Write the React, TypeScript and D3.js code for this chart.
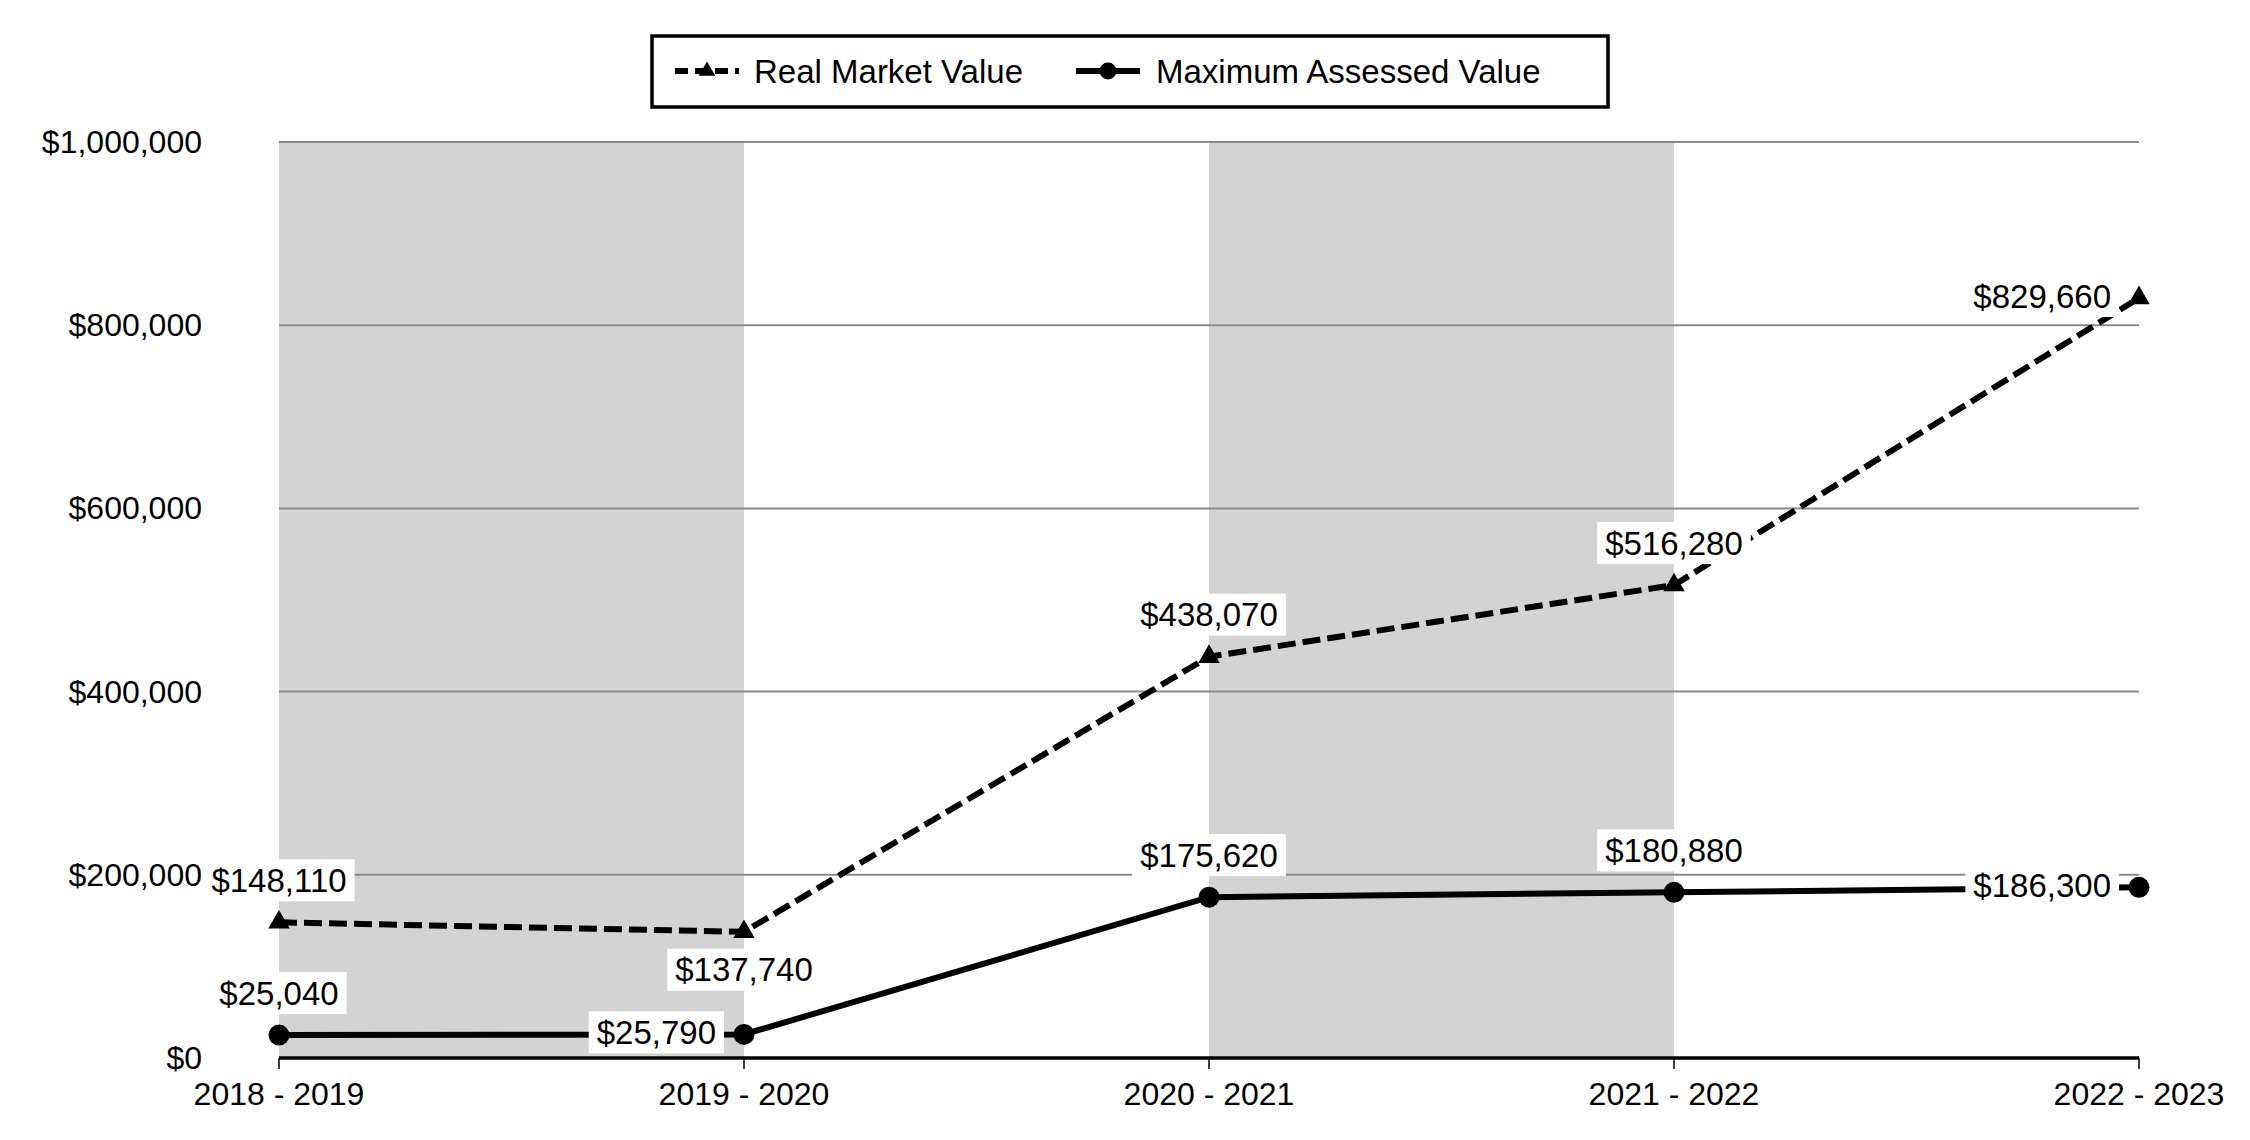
import React, { useEffect, useRef } from 'react';
import * as d3 from 'd3';

const years = ['2018 - 2019', '2019 - 2020', '2020 - 2021', '2021 - 2022', '2022 - 2023'];
const realMarketValue = [148110, 137740, 438070, 516280, 829660];
const maxAssessedValue = [25040, 25790, 175620, 180880, 186300];
const yTicks = [0, 200000, 400000, 600000, 800000, 1000000];
const rmvLabelSide = ['above', 'below', 'above', 'above', 'left'];
const mavLabelSide = ['above', 'left', 'above', 'above', 'left'];

export default function App() {
  const svgRef = useRef<any>();

  useEffect(() => {
    const w = 2250;
    const h = 1140;
    const font = '"Liberation Sans", Arial, sans-serif';
    const svg = d3.select(svgRef.current).attr('width', w).attr('height', h);
    svg.selectAll('*').remove();

    const x = d3.scalePoint().domain(years).range([279, 2139]);
    const y = d3.scaleLinear().domain([0, 1000000]).range([1058, 142]);
    const money = (v: number) => '$' + d3.format(',')(v);

    // alternating gray bands between category ticks
    const bands = years.slice(0, -1).filter((_, i) => i % 2 === 0);
    svg
      .selectAll('.band')
      .data(bands)
      .join('rect')
      .attr('x', (d: any) => x(d))
      .attr('y', y(1000000))
      .attr('width', x.step())
      .attr('height', y(0) - y(1000000))
      .attr('fill', '#d3d3d3');

    // gridlines
    svg
      .selectAll('.grid')
      .data(yTicks.filter((t) => t > 0))
      .join('line')
      .attr('x1', x.range()[0])
      .attr('x2', x.range()[1])
      .attr('y1', (d: any) => y(d))
      .attr('y2', (d: any) => y(d))
      .attr('stroke', '#8a8a8a')
      .attr('stroke-width', 2);

    // y labels
    svg
      .selectAll('.ylab')
      .data(yTicks)
      .join('text')
      .attr('x', 202)
      .attr('y', (d: any) => y(d))
      .attr('text-anchor', 'end')
      .attr('dominant-baseline', 'central')
      .style('font-family', font)
      .style('font-size', '32px')
      .text((d: any) => money(d));

    // x axis
    svg
      .append('line')
      .attr('x1', x.range()[0])
      .attr('x2', x.range()[1])
      .attr('y1', y(0))
      .attr('y2', y(0))
      .attr('stroke', '#000')
      .attr('stroke-width', 3.5);
    svg
      .selectAll('.xtick')
      .data(years)
      .join('line')
      .attr('x1', (d: any) => x(d))
      .attr('x2', (d: any) => x(d))
      .attr('y1', y(0))
      .attr('y2', y(0) + 11)
      .attr('stroke', '#000')
      .attr('stroke-width', 1.5);
    svg
      .selectAll('.xlab')
      .data(years)
      .join('text')
      .attr('x', (d: any) => x(d))
      .attr('y', 1094)
      .attr('text-anchor', 'middle')
      .attr('dominant-baseline', 'central')
      .style('font-family', font)
      .style('font-size', '32px')
      .text((d: any) => d);

    const line = d3
      .line<number>()
      .x((d, i) => x(years[i]) as number)
      .y((d) => y(d));

    svg
      .append('path')
      .attr('d', line(realMarketValue))
      .attr('fill', 'none')
      .attr('stroke', '#000')
      .attr('stroke-width', 6)
      .attr('stroke-dasharray', '18,7');
    svg
      .append('path')
      .attr('d', line(maxAssessedValue))
      .attr('fill', 'none')
      .attr('stroke', '#000')
      .attr('stroke-width', 6);

    // data labels with white boxes
    const addLabels = (vals: number[], sides: string[]) => {
      vals.forEach((v, i) => {
        const px = x(years[i]) as number;
        const py = y(v);
        const g = svg.append('g');
        const rect = g.append('rect').attr('fill', '#fff');
        const t = g
          .append('text')
          .attr('dominant-baseline', 'central')
          .style('font-family', font)
          .style('font-size', '33px')
          .text(money(v));
        const side = sides[i];
        if (side === 'above') {
          t.attr('x', px).attr('y', py - 42).attr('text-anchor', 'middle');
        } else if (side === 'below') {
          t.attr('x', px).attr('y', py + 38).attr('text-anchor', 'middle');
        } else {
          t.attr('x', px - 28).attr('y', py - 2).attr('text-anchor', 'end');
        }
        const bb = (t.node() as any).getBBox();
        rect
          .attr('x', bb.x - 8)
          .attr('y', Number(t.attr('y')) - 21)
          .attr('width', bb.width + 16)
          .attr('height', 42);
      });
    };
    addLabels(realMarketValue, rmvLabelSide);
    addLabels(maxAssessedValue, mavLabelSide);

    // markers
    svg
      .selectAll('.tri')
      .data(realMarketValue)
      .join('path')
      .attr('d', d3.symbol(d3.symbolTriangle, 200) as any)
      .attr('transform', (d: any, i: number) => `translate(${x(years[i])},${y(d)})`)
      .attr('fill', '#000');
    svg
      .selectAll('.dot')
      .data(maxAssessedValue)
      .join('circle')
      .attr('cx', (d: any, i: number) => x(years[i]) as number)
      .attr('cy', (d: any) => y(d))
      .attr('r', 10.5)
      .attr('fill', '#000');

    // legend
    const lg = svg.append('g');
    lg.append('rect')
      .attr('x', 652)
      .attr('y', 36)
      .attr('width', 956)
      .attr('height', 71)
      .attr('fill', '#fff')
      .attr('stroke', '#000')
      .attr('stroke-width', 3.5);
    lg.append('line')
      .attr('x1', 675)
      .attr('x2', 739)
      .attr('y1', 71)
      .attr('y2', 71)
      .attr('stroke', '#000')
      .attr('stroke-width', 6)
      .attr('stroke-dasharray', '13,7');
    lg.append('path')
      .attr('d', d3.symbol(d3.symbolTriangle, 120) as any)
      .attr('transform', 'translate(707,71)')
      .attr('fill', '#000');
    lg.append('text')
      .attr('x', 754)
      .attr('y', 71)
      .attr('dominant-baseline', 'central')
      .style('font-family', font)
      .style('font-size', '33px')
      .text('Real Market Value');
    lg.append('line')
      .attr('x1', 1076)
      .attr('x2', 1140)
      .attr('y1', 71)
      .attr('y2', 71)
      .attr('stroke', '#000')
      .attr('stroke-width', 6);
    lg.append('circle').attr('cx', 1108).attr('cy', 71).attr('r', 8.5).attr('fill', '#000');
    lg.append('text')
      .attr('x', 1156)
      .attr('y', 71)
      .attr('dominant-baseline', 'central')
      .style('font-family', font)
      .style('font-size', '33px')
      .text('Maximum Assessed Value');
  }, []);

  return (
    <div style={{ position: 'absolute', left: 0, top: 0, background: '#fff' }}>
      <svg ref={svgRef} style={{ display: 'block' }}></svg>
    </div>
  );
}
